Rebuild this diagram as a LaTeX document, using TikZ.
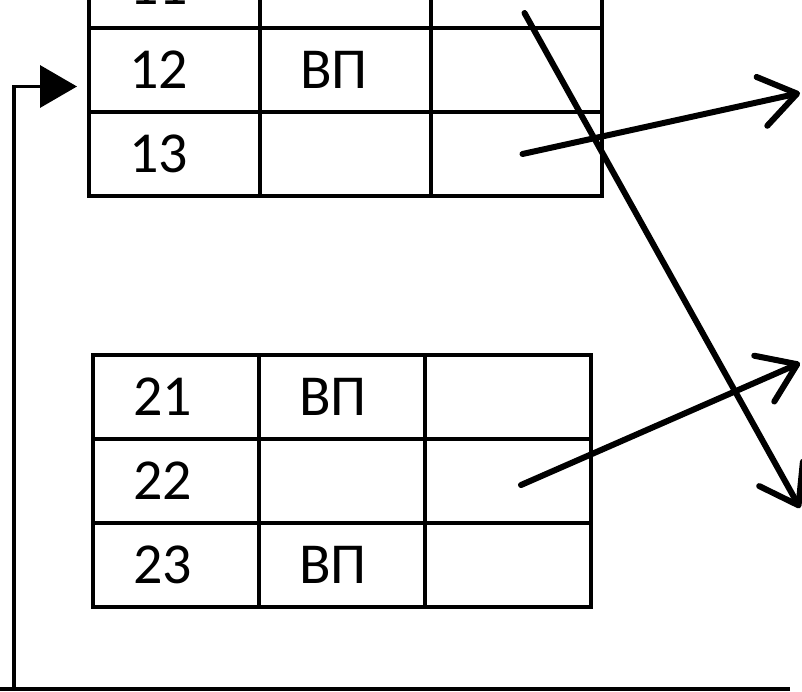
\documentclass[tikz,border=0pt]{standalone}
\usepackage{fontspec}
\setmainfont{Carlito}
\usetikzlibrary{positioning,arrows.meta}

\tikzset{
  cell/.style={draw, line width=4pt, minimum height=84pt, inner ysep=0pt,
               inner xsep=40pt, outer sep=0pt, text width=#1, align=left},
  ptr/.style={line width=6pt, line cap=round, line join=round,
              -{Straight Barb[length=36pt,width=50pt,line cap=round,line join=round]}},
  fb/.style={line width=3.5pt}
}

\begin{document}
\begin{tikzpicture}[x=1pt, y=-1pt, font=\fontsize{58}{58}\selectfont]
  \path[use as bounding box] (0,0) rectangle (802,692);
  \clip (0,0) rectangle (802,692);

  % first table
  \node[cell=91pt, anchor=north west] (t11a) at (89,-56) {11};
  \node[cell=91pt, right=0pt of t11a] (t11b) {};
  \node[cell=91pt, right=0pt of t11b] (t11c) {};
  \node[cell=91pt, below=0pt of t11a] (t12a) {12};
  \node[cell=91pt, right=0pt of t12a] (t12b) {ВП};
  \node[cell=91pt, right=0pt of t12b] (t12c) {};
  \node[cell=91pt, below=0pt of t12a] (t13a) {13};
  \node[cell=91pt, right=0pt of t13a] (t13b) {};
  \node[cell=91pt, right=0pt of t13b] (t13c) {};

  % second table
  \node[cell=86pt, anchor=north west] (t21a) at (93,355) {21};
  \node[cell=86pt, right=0pt of t21a] (t21b) {ВП};
  \node[cell=86pt, right=0pt of t21b] (t21c) {};
  \node[cell=86pt, below=0pt of t21a] (t22a) {22};
  \node[cell=86pt, right=0pt of t22a] (t22b) {};
  \node[cell=86pt, right=0pt of t22b] (t22c) {};
  \node[cell=86pt, below=0pt of t22a] (t23a) {23};
  \node[cell=86pt, right=0pt of t23a] (t23b) {ВП};
  \node[cell=86pt, right=0pt of t23b] (t23c) {};

  % free ends
  \coordinate (out1) at (800,93);
  \coordinate (out2) at (800,363);
  \coordinate (out3) at (800,508);
  \coordinate (fbr) at (790,689);
  \coordinate (fbl) at (0,689);
  \coordinate (fbc) at (14,689);

  % pointers
  \draw[ptr] ([xshift=6pt]t13c.center) -- (out1);
  \draw[ptr] ([xshift=13pt,yshift=-4pt]t22c.center) -- (out2);
  \draw[ptr] ([xshift=8pt,yshift=15pt]t11c.south) -- (out3);

  % back link
  \draw[fb] (fbr) -- (fbl);
  \draw[fb, -{Triangle[length=37pt,width=42pt]}] (fbc) |- ([xshift=-12pt,yshift=-16.5pt]t12a.west);
\end{tikzpicture}
\end{document}
